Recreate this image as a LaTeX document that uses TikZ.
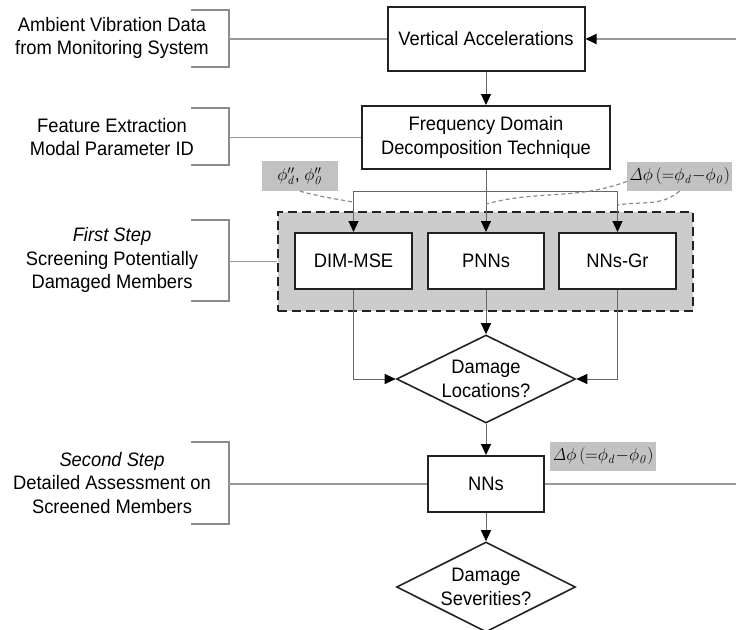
\documentclass[tikz,border=0pt]{standalone}
\usepackage[no-math]{fontspec}
\setmainfont[FakeStretch=0.94]{Liberation Sans}
\usetikzlibrary{arrows.meta,shapes.geometric,positioning}

\definecolor{boxline}{HTML}{222222}
\definecolor{wireline}{HTML}{666666}
\definecolor{sidegray}{HTML}{999999}
\definecolor{bracegray}{HTML}{8C8C8C}
\definecolor{groupfill}{HTML}{CCCCCC}
\definecolor{tagfill}{HTML}{C2C2C2}
\definecolor{hintgray}{HTML}{8A8A8A}

\tikzset{
  every node/.style={font=\fontsize{19.5}{23.5}\selectfont, align=center},
  procbox/.style={draw=boxline, line width=2pt, fill=white, inner sep=0pt},
  decision/.style={diamond, draw=boxline, line width=1.6pt, fill=white, inner sep=0pt, aspect=2},
  groupbox/.style={draw=boxline, fill=groupfill, line width=2.4pt, dash pattern=on 9pt off 5pt},
  tag/.style={fill=tagfill, inner sep=1pt, font=\fontsize{17.5}{20}\selectfont},
  tip/.style={-{Triangle[length=11pt,width=10pt,black]}},
  flow/.style={draw=wireline, line width=1pt, tip},
  feed/.style={draw=sidegray, line width=1.8pt, tip},
  sideline/.style={draw=sidegray, line width=1.8pt},
  bracket/.style={draw=bracegray, line width=1.5pt},
  hint/.style={draw=hintgray, line width=1.2pt, dash pattern=on 4pt off 3pt}
}

\newcommand{\phidiff}{$\mathit{\Delta}\phi\,({=}\phi_{\mathit{d}}{-}\phi_{\mathit{0}})$}

\begin{document}
\begin{tikzpicture}[x=1pt, y=-1pt]
  \useasboundingbox (0,0) rectangle (736,629);

  \node[groupbox, minimum width=415pt, minimum height=99pt] (screen) at (485.5,261.5) {};

  \node[procbox, minimum width=197pt, minimum height=64pt] (va) at (486,39) {Vertical Accelerations};
  \node[procbox, minimum width=248pt, minimum height=63pt] (fdd) at (486,137.5) {Frequency Domain\\Decomposition Technique};
  \node[procbox, minimum width=116pt, minimum height=56pt] (pnns) at (486,261) {PNNs};
  \node[procbox, minimum width=117pt, minimum height=56pt] (dim) at (353.5,261) {DIM-MSE};
  \node[procbox, minimum width=117pt, minimum height=56pt] (nnsgr) at (617.5,261) {NNs-Gr};
  \node[decision, minimum width=179pt, minimum height=88pt] (loc) at (486,379) {Damage\\Locations?};
  \node[procbox, minimum width=116pt, minimum height=56pt] (nns) at (486,484) {NNs};
  \node[decision, minimum width=179pt, minimum height=90pt] (sev) at (486,587) {Damage\\Severities?};

  \node (amb) at (112,38) {Ambient Vibration Data\\from Monitoring System};
  \node (feat) at (112,137) {Feature Extraction\\Modal Parameter ID};
  \node (first) at (112,260) {\itshape First Step\\Screening Potentially\\Damaged Members};
  \node (second) at (112,483) {\itshape Second Step\\Detailed Assessment on\\Screened Members};

  \foreach \ya/\yb/\ym/\tgt in {10/67/39/va, 108/165/137.5/fdd, 220/301/261.5/screen, 442/524/484/nns} {
    \draw[bracket] (191,\ya) -- (229,\ya) -- (229,\yb) -- (191,\yb);
    \draw[sideline] (229,\ym) -- (\tgt.west);
  }

  \coordinate (feedin) at (736,39);
  \coordinate (feedout) at (736,484);
  \coordinate (split) at (486,191);
  \draw[feed] (feedin) -- (va.east);
  \draw[sideline] (nns.east) -- (feedout);

  \draw[flow] (va.south) -- (fdd.north);
  \draw[flow] (fdd.south) -- (pnns.north);
  \draw[flow] (split) -| (dim.north);
  \draw[flow] (split) -| (nnsgr.north);
  \draw[flow] (dim.south) |- (loc.west);
  \draw[flow] (nnsgr.south) |- (loc.east);
  \draw[flow] (pnns.south) -- (loc.north);
  \draw[flow] (loc.south) -- (nns.north);
  \draw[flow] (nns.south) -- (sev.north);

  \node[tag, minimum width=76pt, minimum height=30pt] (tagdd) at (300,176) {$\phi_{\mathit{d}}''$, $\phi_{\mathit{0}}''$};
  \node[tag, minimum width=105pt, minimum height=29pt] (tagdiff) at (679.5,176.5) {\phidiff};
  \node[tag, minimum width=106pt, minimum height=29pt] (tagnn) at (603,456.5) {\phidiff};

  \coordinate (hintdim) at (353,202);
  \coordinate (hintpnn) at (486,204);
  \coordinate (hintgr) at (618,205);
  \draw[hint] (tagdd.south) to[out=-15, in=170] (hintdim);
  \draw[hint] ([yshift=-5pt]tagdiff.west) to[out=200, in=15] (hintpnn);
  \draw[hint] (tagdiff.south) to[out=-140, in=10] (hintgr);
\end{tikzpicture}
\end{document}
